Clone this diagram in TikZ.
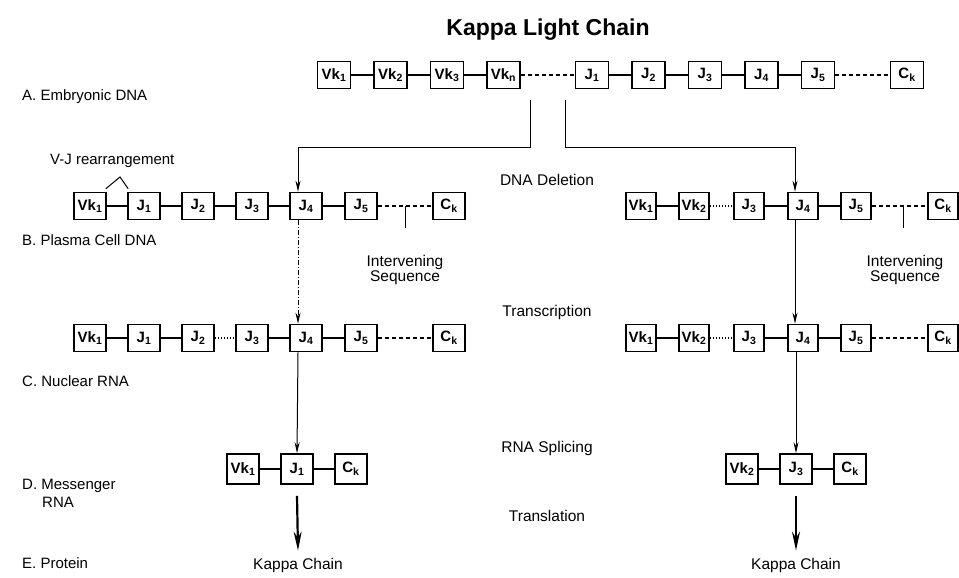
\documentclass[tikz,border=0pt]{standalone}
\usepackage{fontspec}
\setmainfont{Liberation Sans}
\usetikzlibrary{arrows.meta}
\begin{document}
\begin{tikzpicture}[x=1pt,y=-1pt,
 bx/.style={draw,line width=1.6pt,minimum width=32pt,minimum height=27pt,inner sep=0pt,font=\bfseries\fontsize{15}{15}\selectfont},
 bxa/.style={bx,minimum width=33pt},
 bxr/.style={bx,minimum width=30pt},
 bxd/.style={bx,minimum height=30pt},
 lbl/.style={font=\fontsize{15}{15}\selectfont,anchor=west,inner sep=0pt},
 mid/.style={font=\fontsize{15.5}{15.5}\selectfont,inner sep=0pt},
 ln/.style={line width=1.2pt},
 dl/.style={ln,dash pattern=on 4pt off 3pt},
 dt/.style={ln,dash pattern=on 1.5pt off 1.5pt},
 arr/.style={line width=1pt,-{Stealth[length=11pt,width=5pt]}},
 darr/.style={arr,dash pattern=on 5pt off 2pt on 1pt off 2pt},
 bigarr/.style={line width=2.2pt,-{Stealth[length=19pt,width=8pt]}}
]
\useasboundingbox (0,0) rectangle (959,578);

% title
\node[font=\bfseries\fontsize{23}{23}\selectfont] (title) at (548,30) {Kappa Light Chain};

% row labels
\node[lbl] (la) at (22,97) {A. Embryonic DNA};
\node[lbl] (vj) at (50,161) {V-J rearrangement};
\node[lbl] (lb) at (22,240) {B. Plasma Cell DNA};
\node[lbl] (lc) at (22,381) {C. Nuclear RNA};
\node[lbl] (ld) at (22,486) {D. Messenger};
\node[lbl] (ld2) at (42,502) {RNA};
\node[lbl] (le) at (22,563) {E. Protein};

% step labels
\node[mid] (s1) at (547,180) {DNA Deletion};
\node[mid] (s2) at (547,312) {Transcription};
\node[mid] (s3) at (547,448) {RNA Splicing};
\node[mid] (s4) at (547,516) {Translation};

% Row A
\node[bxa] (a1) at (334,75) {Vk\textsubscript{1}};
\node[bxa] (a2) at (390.5,75) {Vk\textsubscript{2}};
\node[bxa] (a3) at (447,75) {Vk\textsubscript{3}};
\node[bxa] (a4) at (503.5,75) {Vk\textsubscript{n}};
\node[bxa] (a5) at (592,75) {J\textsubscript{1}};
\node[bxa] (a6) at (648.5,75) {J\textsubscript{2}};
\node[bxa] (a7) at (705,75) {J\textsubscript{3}};
\node[bxa] (a8) at (761.5,75) {J\textsubscript{4}};
\node[bxa] (a9) at (818,75) {J\textsubscript{5}};
\node[bxa] (a10) at (907,75) {C\textsubscript{k}};
\draw[ln] (a1)--(a2) (a2)--(a3) (a3)--(a4) (a5)--(a6) (a6)--(a7) (a7)--(a8) (a8)--(a9);
\draw[dl] (a4)--(a5) (a9)--(a10);

% Row B left
\node[bx] (b1) at (90,206) {Vk\textsubscript{1}};
\node[bx] (b2) at (144,206) {J\textsubscript{1}};
\node[bx] (b3) at (198,206) {J\textsubscript{2}};
\node[bx] (b4) at (252,206) {J\textsubscript{3}};
\node[bx] (b5) at (306,206) {J\textsubscript{4}};
\node[bx] (b6) at (361,206) {J\textsubscript{5}};
\node[bx] (b7) at (449,206) {C\textsubscript{k}};
\draw[ln] (b1)--(b2) (b2)--(b3) (b3)--(b4) (b4)--(b5) (b5)--(b6);
\draw[dl] (b6)--(b7);

% Row B right
\node[bxr] (r1) at (641,206) {Vk\textsubscript{1}};
\node[bxr] (r2) at (694,206) {Vk\textsubscript{2}};
\node[bxr] (r3) at (749,206) {J\textsubscript{3}};
\node[bxr] (r4) at (803,206) {J\textsubscript{4}};
\node[bxr] (r5) at (856,206) {J\textsubscript{5}};
\node[bxr] (r6) at (943,206) {C\textsubscript{k}};
\draw[ln] (r1)--(r2) (r3)--(r4) (r4)--(r5);
\draw[dt] (r2)--(r3);
\draw[dl] (r5)--(r6);

% V-J rearrangement caret
\coordinate (vjp) at (120,177);
\draw[line width=1pt] ([shift={(-1pt,3pt)}]b1.north east) -- (vjp) -- ([shift={(1pt,3pt)}]b2.north west);

% intervening sequences
\coordinate (iL) at (405,206);
\coordinate (iR) at (903,206);
\draw[line width=1pt] (iL) -- ++(0,22);
\draw[line width=1pt] (iR) -- ++(0,22);
\node[mid] (ivL) at (405,262) {Intervening};
\node[mid] (sqL) at (405,278) {Sequence};
\node[mid] (ivR) at (905,262) {Intervening};
\node[mid] (sqR) at (905,278) {Sequence};

% Row C left
\node[bx] (c1) at (90,338) {Vk\textsubscript{1}};
\node[bx] (c2) at (144,338) {J\textsubscript{1}};
\node[bx] (c3) at (198,338) {J\textsubscript{2}};
\node[bx] (c4) at (252,338) {J\textsubscript{3}};
\node[bx] (c5) at (306,338) {J\textsubscript{4}};
\node[bx] (c6) at (361,338) {J\textsubscript{5}};
\node[bx] (c7) at (449,338) {C\textsubscript{k}};
\draw[ln] (c1)--(c2) (c2)--(c3) (c4)--(c5) (c5)--(c6);
\draw[dt] (c3)--(c4);
\draw[dl] (c6)--(c7);

% Row C right
\node[bxr] (q1) at (641,338) {Vk\textsubscript{1}};
\node[bxr] (q2) at (694,338) {Vk\textsubscript{2}};
\node[bxr] (q3) at (749,338) {J\textsubscript{3}};
\node[bxr] (q4) at (803,338) {J\textsubscript{4}};
\node[bxr] (q5) at (856,338) {J\textsubscript{5}};
\node[bxr] (q6) at (943,338) {C\textsubscript{k}};
\draw[ln] (q1)--(q2) (q3)--(q4) (q4)--(q5);
\draw[dt] (q2)--(q3);
\draw[dl] (q5)--(q6);

% Row D
\node[bxd] (d1) at (243,469) {Vk\textsubscript{1}};
\node[bxd] (d2) at (297,469) {J\textsubscript{1}};
\node[bxd] (d3) at (351,469) {C\textsubscript{k}};
\draw[ln] (d1)--(d2) (d2)--(d3);
\node[bxd] (e1) at (742,469) {Vk\textsubscript{2}};
\node[bxd] (e2) at (796,469) {J\textsubscript{3}};
\node[bxd] (e3) at (850,469) {C\textsubscript{k}};
\draw[ln] (e1)--(e2) (e2)--(e3);

% protein
\node[mid] (k1) at (298,565) {Kappa Chain};
\node[mid] (k2) at (796,565) {Kappa Chain};

% branch arrows A -> B
\coordinate (sL) at (530,100);
\coordinate (sR) at (565,100);
\coordinate (kL) at (530,147);
\coordinate (tL) at ([xshift=-8pt]b5.north);
\coordinate (tR) at ([xshift=-8pt]r4.north);
\draw[arr] (sL) |- (tL |- kL) -- (tL);
\draw[arr] (sR) |- (tR |- kL) -- (tR);

% B -> C
\draw[darr] ([xshift=-8pt]b5.south) -- ([xshift=-8pt]c5.north);
\draw[arr] ([xshift=-8pt]r4.south) -- ([xshift=-8pt]q4.north);

% C -> D
\draw[arr] ([xshift=-8pt]c5.south) -- (d2.north);
\draw[arr] ([xshift=-7pt]q4.south) -- (e2.north);

% D -> E
\draw[bigarr] ([yshift=-11pt]d2.south) -- ([yshift=7pt]k1.north);
\draw[bigarr] ([yshift=-11pt]e2.south) -- ([yshift=7pt]k2.north);
\end{tikzpicture}
\end{document}
